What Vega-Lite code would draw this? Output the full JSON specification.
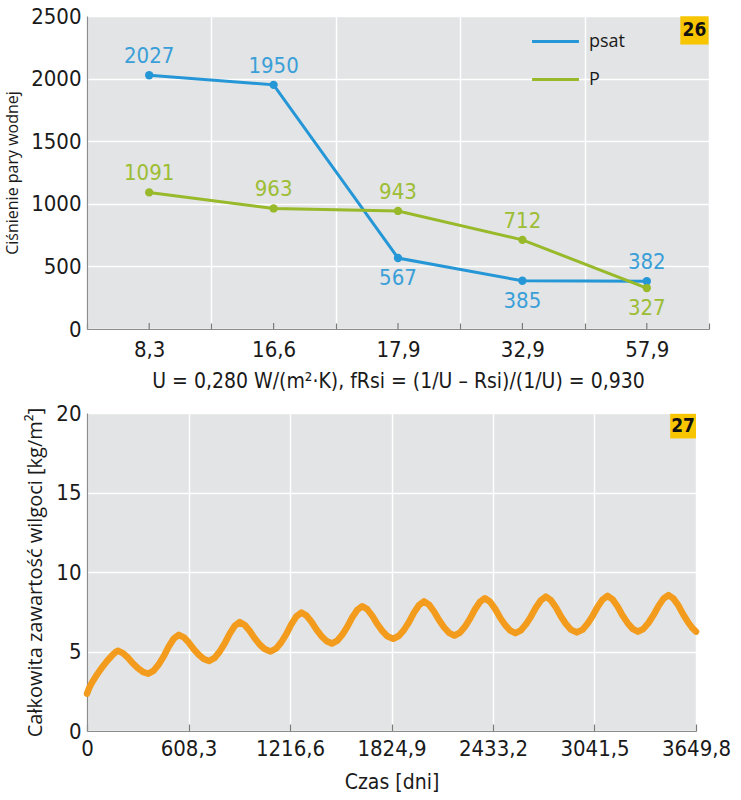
{
  "$schema": "https://vega.github.io/schema/vega-lite/v6.json",
  "background": "white",
  "padding": {"left": 4, "top": 5, "right": 5, "bottom": 5},
  "bounds": "flush",
  "spacing": 84,
  "config": {
    "view": {"fill": "#e2e4e5", "stroke": null},
    "axis": {
      "domainColor": "#8c8c8c",
      "domainWidth": 1.2,
      "gridColor": "#ffffff",
      "gridWidth": 1.5,
      "tickColor": "#7a7a7a",
      "tickWidth": 1.2,
      "labelColor": "#1a1a1a",
      "titleColor": "#1a1a1a",
      "labelFont": "Liberation Sans Narrow, DejaVu Sans Condensed, sans-serif",
      "titleFont": "Liberation Sans Narrow, DejaVu Sans Condensed, sans-serif",
      "titleFontWeight": "normal"
    }
  },
  "datasets": {
    "pressure": [
      {"u": "8,3", "series": "psat", "value": 2027},
      {"u": "16,6", "series": "psat", "value": 1950},
      {"u": "17,9", "series": "psat", "value": 567},
      {"u": "32,9", "series": "psat", "value": 385},
      {"u": "57,9", "series": "psat", "value": 382},
      {"u": "8,3", "series": "P", "value": 1091},
      {"u": "16,6", "series": "P", "value": 963},
      {"u": "17,9", "series": "P", "value": 943},
      {"u": "32,9", "series": "P", "value": 712},
      {"u": "57,9", "series": "P", "value": 327}
    ],
    "moisture": [
      {"t": 0, "w": 2.35}, {"t": 15, "w": 2.75}, {"t": 30, "w": 3.05}, {"t": 60, "w": 3.55}, {"t": 90, "w": 4.0},
      {"t": 120, "w": 4.4}, {"t": 150, "w": 4.75}, {"t": 170, "w": 4.95}, {"t": 185, "w": 5.05},
      {"t": 215, "w": 4.9}, {"t": 245, "w": 4.62}, {"t": 275, "w": 4.25}, {"t": 305, "w": 3.95}, {"t": 335, "w": 3.72}, {"t": 367, "w": 3.6},
      {"t": 400, "w": 3.8}, {"t": 430, "w": 4.19}, {"t": 460, "w": 4.7}, {"t": 490, "w": 5.32}, {"t": 520, "w": 5.81}, {"t": 550, "w": 6.05},
      {"t": 580, "w": 5.89}, {"t": 610, "w": 5.56}, {"t": 640, "w": 5.14}, {"t": 670, "w": 4.8}, {"t": 700, "w": 4.53}, {"t": 732, "w": 4.4},
      {"t": 765, "w": 4.6}, {"t": 795, "w": 4.99}, {"t": 825, "w": 5.5}, {"t": 855, "w": 6.12}, {"t": 885, "w": 6.61}, {"t": 915, "w": 6.85},
      {"t": 945, "w": 6.67}, {"t": 975, "w": 6.3}, {"t": 1005, "w": 5.83}, {"t": 1035, "w": 5.44}, {"t": 1065, "w": 5.15}, {"t": 1100, "w": 5.0},
      {"t": 1135, "w": 5.2}, {"t": 1165, "w": 5.59}, {"t": 1195, "w": 6.1}, {"t": 1225, "w": 6.72}, {"t": 1255, "w": 7.21}, {"t": 1285, "w": 7.45},
      {"t": 1315, "w": 7.26}, {"t": 1345, "w": 6.87}, {"t": 1375, "w": 6.38}, {"t": 1405, "w": 5.97}, {"t": 1435, "w": 5.66}, {"t": 1467, "w": 5.5},
      {"t": 1500, "w": 5.69}, {"t": 1530, "w": 6.06}, {"t": 1560, "w": 6.56}, {"t": 1590, "w": 7.15}, {"t": 1620, "w": 7.62}, {"t": 1650, "w": 7.85},
      {"t": 1680, "w": 7.65}, {"t": 1710, "w": 7.24}, {"t": 1740, "w": 6.72}, {"t": 1770, "w": 6.29}, {"t": 1800, "w": 5.96}, {"t": 1835, "w": 5.8},
      {"t": 1870, "w": 5.99}, {"t": 1900, "w": 6.36}, {"t": 1930, "w": 6.86}, {"t": 1960, "w": 7.45}, {"t": 1990, "w": 7.92}, {"t": 2020, "w": 8.15},
      {"t": 2050, "w": 7.94}, {"t": 2080, "w": 7.51}, {"t": 2110, "w": 6.97}, {"t": 2140, "w": 6.52}, {"t": 2170, "w": 6.17}, {"t": 2202, "w": 6.0},
      {"t": 2235, "w": 6.19}, {"t": 2265, "w": 6.56}, {"t": 2295, "w": 7.06}, {"t": 2325, "w": 7.65}, {"t": 2355, "w": 8.12}, {"t": 2385, "w": 8.35},
      {"t": 2415, "w": 8.13}, {"t": 2445, "w": 7.69}, {"t": 2475, "w": 7.14}, {"t": 2505, "w": 6.68}, {"t": 2535, "w": 6.33}, {"t": 2567, "w": 6.15},
      {"t": 2600, "w": 6.33}, {"t": 2630, "w": 6.7}, {"t": 2660, "w": 7.19}, {"t": 2690, "w": 7.76}, {"t": 2720, "w": 8.22}, {"t": 2750, "w": 8.45},
      {"t": 2780, "w": 8.23}, {"t": 2810, "w": 7.78}, {"t": 2840, "w": 7.21}, {"t": 2870, "w": 6.74}, {"t": 2900, "w": 6.38}, {"t": 2935, "w": 6.2},
      {"t": 2970, "w": 6.38}, {"t": 3000, "w": 6.75}, {"t": 3030, "w": 7.24}, {"t": 3060, "w": 7.81}, {"t": 3090, "w": 8.27}, {"t": 3120, "w": 8.5},
      {"t": 3150, "w": 8.28}, {"t": 3180, "w": 7.83}, {"t": 3210, "w": 7.26}, {"t": 3240, "w": 6.79}, {"t": 3270, "w": 6.43}, {"t": 3302, "w": 6.25},
      {"t": 3335, "w": 6.43}, {"t": 3365, "w": 6.8}, {"t": 3395, "w": 7.29}, {"t": 3425, "w": 7.86}, {"t": 3455, "w": 8.32}, {"t": 3485, "w": 8.55},
      {"t": 3515, "w": 8.33}, {"t": 3545, "w": 7.88}, {"t": 3575, "w": 7.3}, {"t": 3605, "w": 6.8}, {"t": 3630, "w": 6.45}, {"t": 3649.8, "w": 6.25}
    ]
  },
  "vconcat": [
    {
      "width": 622,
      "height": 313,
      "data": {"name": "pressure"},
      "layer": [
        {
          "mark": {"type": "line", "strokeWidth": 3},
          "encoding": {
            "x": {
              "field": "u",
              "type": "ordinal",
              "bandPosition": 0.5,
              "scale": {"type": "band", "domain": ["8,3", "16,6", "17,9", "32,9", "57,9"], "paddingInner": 0, "paddingOuter": 0},
              "axis": {
                "title": "U = 0,280 W/(m²·K), fRsi = (1/U – Rsi)/(1/U) = 0,930",
                "tickBand": "extent",
                "grid": true,
                "tickSize": -6,
                "labelAngle": 0,
                "labelFontSize": 22,
                "labelPadding": 16,
                "titleFontSize": 21,
                "titlePadding": 10
              }
            },
            "y": {
              "field": "value",
              "type": "quantitative",
              "scale": {"domain": [0, 2500], "nice": false, "zero": true},
              "axis": {
                "title": "Ciśnienie pary wodnej",
                "titleFont": "Open Sans",
                "titleFontSize": 16,
                "titlePadding": 10,
                "values": [0, 500, 1000, 1500, 2000, 2500],
                "format": "d",
                "ticks": false,
                "grid": true,
                "labelFontSize": 22,
                "labelPadding": 6
              }
            },
            "color": {
              "field": "series",
              "type": "nominal",
              "scale": {"domain": ["psat", "P"], "range": ["#2596d6", "#98b92a"]},
              "legend": {
                "title": null,
                "orient": "none",
                "legendX": 453,
                "legendY": 10,
                "symbolType": "M-1.7,0H1.7",
                "symbolSize": 760,
                "symbolStrokeWidth": 3,
                "labelFont": "Open Sans",
                "labelFontSize": 18,
                "labelColor": "#1a1a1a",
                "labelOffset": 18,
                "rowPadding": 13
              }
            }
          }
        },
        {
          "transform": [{"filter": "datum.series == 'psat'"}],
          "mark": {"type": "rule", "color": "#7a7a7a", "strokeWidth": 1.2},
          "encoding": {
            "x": {"field": "u", "type": "ordinal", "bandPosition": 0.5},
            "y": {"datum": 0, "type": "quantitative", "scale": {"domain": [0, 2500], "nice": false, "zero": true}},
            "y2": {"datum": 48}
          }
        },
        {
          "mark": {"type": "point", "filled": true, "size": 70, "opacity": 1},
          "encoding": {
            "x": {"field": "u", "type": "ordinal", "bandPosition": 0.5},
            "y": {"field": "value", "type": "quantitative", "scale": {"domain": [0, 2500], "nice": false, "zero": true}},
            "color": {"field": "series", "type": "nominal", "legend": null}
          }
        },
        {
          "transform": [{"filter": "!((datum.series == 'psat' && (datum.u == '17,9' || datum.u == '32,9')) || (datum.series == 'P' && datum.u == '57,9'))"}],
          "mark": {"type": "text", "dy": -19, "fontSize": 22, "font": "Liberation Sans Narrow, DejaVu Sans Condensed, sans-serif"},
          "encoding": {
            "x": {"field": "u", "type": "ordinal", "bandPosition": 0.5},
            "y": {"field": "value", "type": "quantitative", "scale": {"domain": [0, 2500], "nice": false, "zero": true}},
            "text": {"field": "value", "type": "quantitative"},
            "color": {"condition": {"test": "datum.series == 'psat'", "value": "#3a9fd8"}, "value": "#9dbd34"}
          }
        },
        {
          "transform": [{"filter": "(datum.series == 'psat' && (datum.u == '17,9' || datum.u == '32,9')) || (datum.series == 'P' && datum.u == '57,9')"}],
          "mark": {"type": "text", "dy": 20, "fontSize": 22, "font": "Liberation Sans Narrow, DejaVu Sans Condensed, sans-serif"},
          "encoding": {
            "x": {"field": "u", "type": "ordinal", "bandPosition": 0.5},
            "y": {"field": "value", "type": "quantitative", "scale": {"domain": [0, 2500], "nice": false, "zero": true}},
            "text": {"field": "value", "type": "quantitative"},
            "color": {"condition": {"test": "datum.series == 'psat'", "value": "#3a9fd8"}, "value": "#9dbd34"}
          }
        },
        {
          "transform": [{"filter": "datum.series == 'psat' && datum.u == '57,9'"}],
          "mark": {"type": "point", "shape": "square", "filled": true, "color": "#f7c600", "size": 800, "opacity": 1},
          "encoding": {
            "x": {"field": "u", "type": "ordinal", "bandPosition": 0.883},
            "y": {"datum": 2385, "type": "quantitative", "scale": {"domain": [0, 2500], "nice": false, "zero": true}}
          }
        },
        {
          "transform": [{"filter": "datum.series == 'psat' && datum.u == '57,9'"}],
          "mark": {"type": "text", "color": "#111111", "fontWeight": "bold", "fontSize": 19, "font": "Liberation Sans Narrow, DejaVu Sans Condensed, sans-serif"},
          "encoding": {
            "x": {"field": "u", "type": "ordinal", "bandPosition": 0.883},
            "y": {"datum": 2385, "type": "quantitative", "scale": {"domain": [0, 2500], "nice": false, "zero": true}},
            "text": {"value": "26"}
          }
        }
      ]
    },
    {
      "width": 609,
      "height": 318,
      "layer": [
        {
          "data": {"name": "moisture"},
          "mark": {"type": "line", "color": "#f29b1c", "strokeWidth": 6.5, "strokeJoin": "round", "strokeCap": "round"},
          "encoding": {
            "x": {
              "field": "t",
              "type": "quantitative",
              "scale": {"domain": [0, 3649.8], "nice": false, "zero": false},
              "axis": {
                "title": "Czas [dni]",
                "values": [0, 608.3, 1216.6, 1824.9, 2433.2, 3041.5, 3649.8],
                "labelExpr": "datum.value == 0 ? '0' : replace(format(datum.value, '.1f'), '.', ',')",
                "grid": true,
                "tickSize": -7,
                "labelFlush": false,
                "labelOverlap": false,
                "labelFontSize": 22,
                "labelPadding": 14,
                "titleFontSize": 21,
                "titlePadding": 12
              }
            },
            "y": {
              "field": "w",
              "type": "quantitative",
              "scale": {"domain": [0, 20], "nice": false},
              "axis": {
                "title": "Całkowita zawartość wilgoci [kg/m²]",
                "titleFont": "Open Sans",
                "titleFontSize": 20,
                "titlePadding": 10,
                "values": [0, 5, 10, 15, 20],
                "ticks": false,
                "grid": true,
                "labelFontSize": 22,
                "labelPadding": 6
              }
            }
          }
        },
        {
          "data": {"values": [{"badge": "27"}]},
          "mark": {"type": "rect", "color": "#f7c600"},
          "encoding": {
            "x": {"datum": 3495, "type": "quantitative"},
            "x2": {"datum": 3649.8},
            "y": {"datum": 19.95},
            "y2": {"datum": 18.4}
          }
        },
        {
          "data": {"values": [{"badge": "27"}]},
          "mark": {"type": "text", "color": "#111111", "fontWeight": "bold", "fontSize": 19, "font": "Liberation Sans Narrow, DejaVu Sans Condensed, sans-serif"},
          "encoding": {
            "x": {"datum": 3572, "type": "quantitative"},
            "y": {"datum": 19.17},
            "text": {"field": "badge"}
          }
        }
      ]
    }
  ]
}
